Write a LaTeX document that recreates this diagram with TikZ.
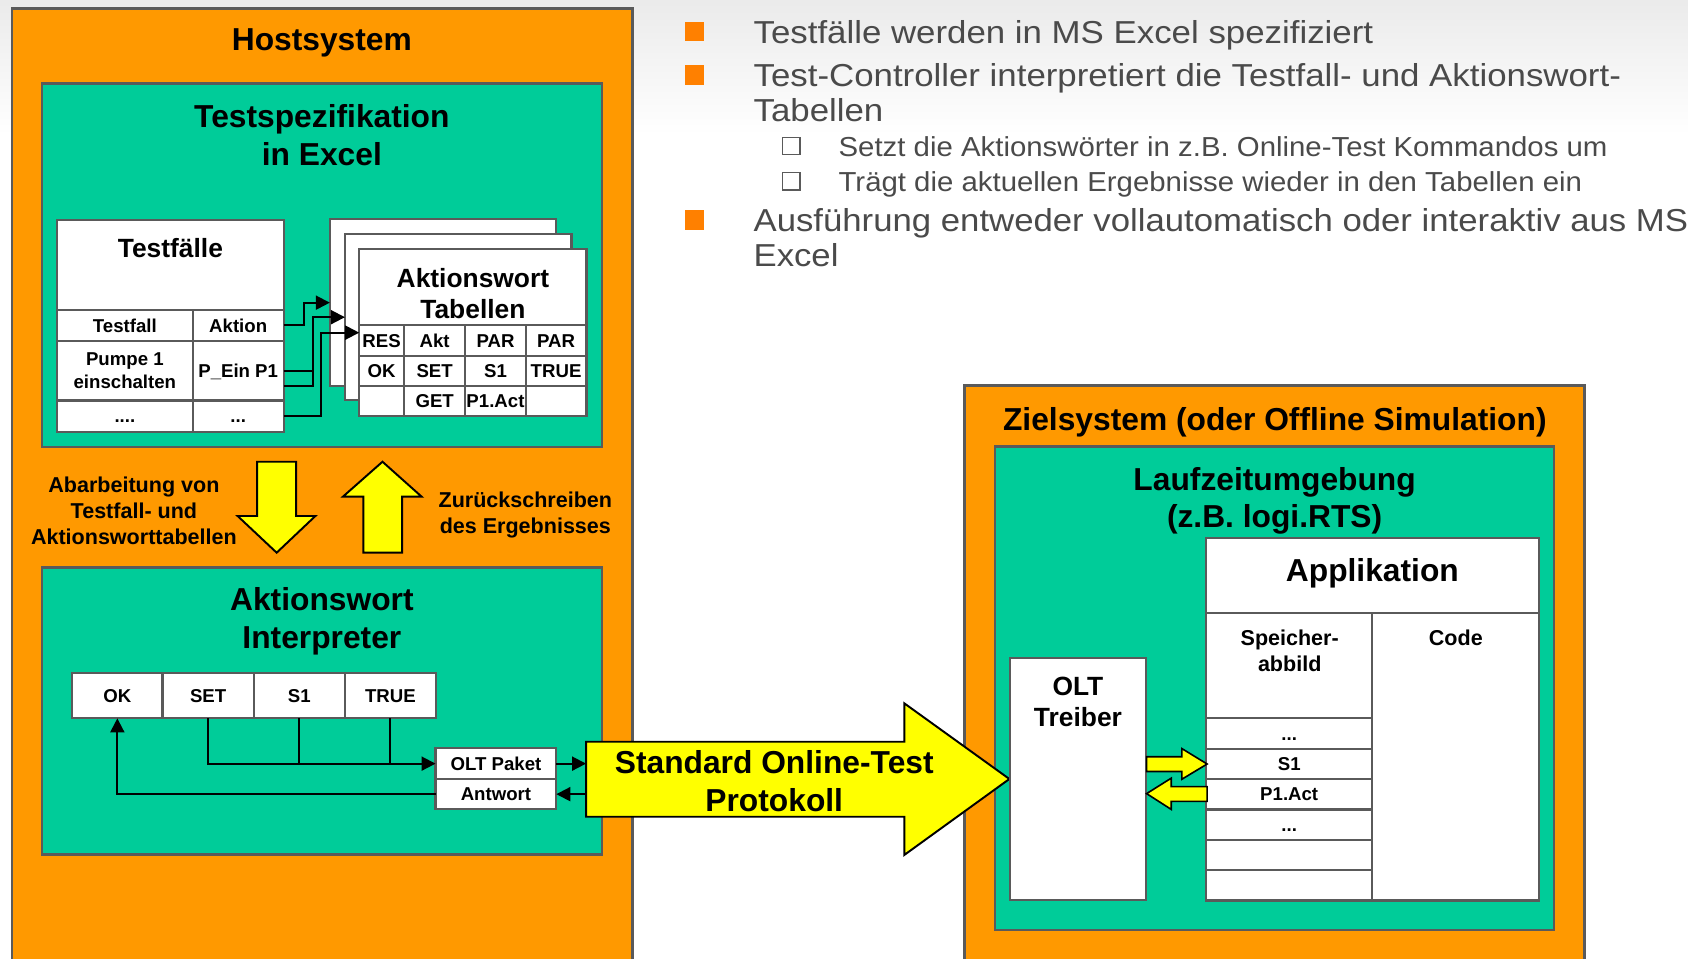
\documentclass[tikz,border=0pt]{standalone}
\usepackage{fontspec}
\usepackage{graphicx}
\setmainfont{Liberation Sans}
\usetikzlibrary{arrows.meta}
\definecolor{orng}{HTML}{FF9900}
\definecolor{tealc}{HTML}{00CC99}
\definecolor{yelc}{HTML}{FFFF00}
\definecolor{bordc}{HTML}{5A5A5A}
\definecolor{txtg}{HTML}{4A4A4A}
\definecolor{bulc}{HTML}{FF8000}
\newcommand{\myfs}[2]{\fontsize{#1}{#2}\selectfont\lineskiplimit=-1000pt\relax}
\newcommand{\ms}{\rule[-0.284em]{0pt}{1.284em}}
\newcommand{\sx}[2]{\scalebox{#1}[1]{\ms #2}}
\newcommand{\mkbox}[6][]{\node[#1, anchor=north west, minimum width={#5-#3}, minimum height={#6-#4}] (#2) at (#3,#4) {};}
\newcommand{\mkcell}[7][]{\node[cellst,#1, minimum width={#5-#3}, minimum height={#6-#4}] (#2) at ({(#3+#5)/2},{(#4+#6)/2}) {\ms #7};}
\tikzset{
 panelst/.style={draw=bordc, line width=2.2pt, inner sep=0pt, outer sep=0pt},
 hostst/.style={panelst, fill=orng},
 envst/.style={panelst, fill=tealc},
 whitest/.style={panelst, fill=white, line width=2pt},
 cellst/.style={draw=bordc, fill=white, line width=2pt, inner sep=0pt, outer sep=0pt, align=center, font=\myfs{17.3}{21}\bfseries},
 lab/.style={inner sep=0pt, outer sep=0pt, align=center, text=black},
 big/.style={lab, font=\myfs{29.5}{35}\bfseries},
 mid/.style={lab, font=\myfs{24.5}{29}\bfseries},
 sml/.style={lab, font=\myfs{20}{24}\bfseries},
 conn/.style={line width=1.8pt, black},
 tipa/.style={-{Triangle[length=13pt,width=13pt]}},
 blk/.style={draw=black, line width=1.8pt, fill=yelc, line join=miter},
 blks/.style={draw=black, line width=1.5pt, fill=yelc, line join=miter},
 rt/.style={inner sep=0pt, outer sep=0pt, anchor=west, align=left, text=txtg},
 bul/.style={fill=bulc, inner sep=0pt, minimum size=18pt},
 subbul/.style={draw=bordc, fill=white, line width=1.4pt, inner sep=0pt, minimum width=16pt, minimum height=16pt},
}
\begin{document}
\begin{tikzpicture}[x=1pt,y=-1pt]
\useasboundingbox (0,0) rectangle (1568,890);
\shade[top color=black!8, bottom color=white] (0,0) rectangle (1568,125);

% ---------------- Hostsystem ----------------
\mkbox[hostst]{host}{11}{8}{587.5}{905}
\node[big] (hosttitle) at (299,36.5) {\ms Hostsystem};
\mkbox[envst]{spec}{39}{77.4}{559}{415}
\node[big] (spectitle) at (299,125.7) {\ms Testspezifikation\\\ms in Excel};

% Testfaelle table
\mkbox[whitest]{tf}{53}{204.4}{263.5}{401}
\node[mid] (tftitle) at (158.3,230.7) {\ms Testfälle};
\mkcell{tfh1}{53}{288}{179}{316.5}{Testfall}
\mkcell{tfh2}{179}{288}{263.5}{316.5}{Aktion}
\mkcell{tfr1}{53}{316.5}{179}{372}{Pumpe 1\\\ms einschalten}
\mkcell{tfP}{179}{316.5}{263.5}{372}{P\_Ein P1}
\mkcell{tfr3}{53}{372}{179}{401}{....}
\mkcell{tfD}{179}{372}{263.5}{401}{...}

% Aktionswort sheets
\mkbox[whitest]{back}{306.4}{203.7}{516.8}{358.6}
\mkbox[whitest]{mids}{320.4}{217.7}{530.8}{371.6}
\mkbox[whitest]{front}{333.7}{231.6}{544.8}{386.4}
\node[mid] (fronttitle) at (439.3,272.9) {\ms Aktionswort\\\ms Tabellen};
\mkcell{a11}{333.7}{302}{375.3}{330.7}{RES}
\mkcell{a12}{375.3}{302}{432.2}{330.7}{Akt}
\mkcell{a13}{432.2}{302}{488.3}{330.7}{PAR}
\mkcell{a14}{488.3}{302}{544.8}{330.7}{PAR}
\mkcell{a21}{333.7}{330.7}{375.3}{358.6}{OK}
\mkcell{a22}{375.3}{330.7}{432.2}{358.6}{SET}
\mkcell{a23}{432.2}{330.7}{488.3}{358.6}{S1}
\mkcell{a24}{488.3}{330.7}{544.8}{358.6}{TRUE}
\mkcell{a31}{333.7}{358.6}{375.3}{386.4}{}
\mkcell{a32}{375.3}{358.6}{432.2}{386.4}{GET}
\mkcell{a33}{432.2}{358.6}{488.3}{386.4}{P1.Act}
\mkcell{a34}{488.3}{358.6}{544.8}{386.4}{}

% connectors Testfaelle -> sheets
\coordinate (p1) at (291,344.6);
\coordinate (p2) at (291,358.3);
\draw[conn,tipa] (tfh2.east) -- ++(19.2,0) |- (back.west);
\draw[conn] (tfP.east |- p1) -- (p1);
\draw[conn,tipa] (tfP.east |- p2) -- (p2) |- (mids.west);
\draw[conn,tipa] (tfD.east) -- ++(34.4,0) |- (front.west);

% yellow block arrows
\draw[blk] (238.8,428.9) -- (275,428.9) -- (275,479.3) -- (293,479.3) -- (257,513.4) -- (220.7,479.3) -- (238.8,479.3) -- cycle;
\draw[blk] (355.3,428.9) -- (391.7,461.4) -- (373.5,461.4) -- (373.5,513.4) -- (337.5,513.4) -- (337.5,461.4) -- (318.5,461.4) -- cycle;
\node[sml] (abtxt) at (124.4,474.3) {\ms Abarbeitung von\\\ms Testfall- und\\\ms Aktionsworttabellen};
\node[sml] (zurtxt) at (488,476.5) {\ms Zurückschreiben\\\ms des Ergebnisses};

% Interpreter
\mkbox[envst]{interp}{39}{527.3}{559}{793.6}
\node[big] (interptitle) at (299,574.3) {\ms Aktionswort\\\ms Interpreter};
\mkcell{ok}{67.1}{625.5}{150.9}{667.3}{OK}
\mkcell{set}{150.9}{625.5}{235.8}{667.3}{SET}
\mkcell{sone}{235.8}{625.5}{320.4}{667.3}{S1}
\mkcell{tru}{320.4}{625.5}{405}{667.3}{TRUE}
\mkcell{olt}{404.6}{695.1}{516.8}{723.6}{OLT Paket}
\mkcell{antw}{404.6}{723.6}{516.8}{751.8}{Antwort}
\draw[conn,tipa] (set.south) |- (olt.west);
\draw[conn] (sone.south) -- (sone.south |- olt.west);
\draw[conn] (tru.south) -- (tru.south |- olt.west);
\draw[conn,tipa] (antw.west) -| (ok.south);

% ---------------- Zielsystem ----------------
\mkbox[hostst]{ziel}{896}{358.1}{1471.8}{905}
\node[big] (zieltitle) at (1184.2,388.9) {\ms Zielsystem (oder Offline Simulation)};
\mkbox[envst]{lauf}{924.1}{414.6}{1443.7}{863.8}
\node[lab, font=\myfs{29.5}{33.6}\bfseries] (lauftitle) at (1184,462.2) {\ms Laufzeitumgebung\\\ms (z.B. logi.RTS)};

% big protocol arrow (on top of the target box edge)
\draw[blk] (544.4,689) -- (840,689) -- (840,653.3) -- (937.6,723.6) -- (840,794.2) -- (840,758.7) -- (544.4,758.7) -- cycle;
\coordinate (bigL) at (544.4,723.6);
\node[lab, font=\myfs{29.5}{35.5}\bfseries] (stdtxt) at (719.2,725.3) {\ms Standard Online-Test\\\ms Protokoll};
\draw[conn,tipa] (olt.east) -- (olt.east -| bigL);
\draw[conn,tipa] (antw.east -| bigL) -- (antw.east);

\mkbox[whitest]{app}{1120.3}{499.5}{1429.5}{836.5}
\mkbox[whitest]{apphead}{1120.3}{499.5}{1429.5}{569.4}
\mkbox[whitest]{code}{1274.8}{569.4}{1429.5}{836.5}
\mkbox[whitest]{speich}{1120.3}{569.4}{1274.8}{667.3}
\node[big] (apptitle) at (1274.8,529.3) {\ms Applikation};
\node[sml] (speichtxt) at (1198,604.6) {\ms Speicher-\\\ms abbild};
\node[sml] (codetxt) at (1352.3,592.7) {\ms Code};
\mkcell{m1}{1120.3}{667.3}{1274.8}{696}{...}
\mkcell{m2}{1120.3}{696}{1274.8}{723.8}{S1}
\mkcell{m3}{1120.3}{723.8}{1274.8}{751.9}{P1.Act}
\mkcell{m4}{1120.3}{751.9}{1274.8}{780}{...}
\mkcell{m5}{1120.3}{780}{1274.8}{808.4}{}
\mkcell{m6}{1120.3}{808.4}{1274.8}{836.5}{}
\mkbox[whitest]{drv}{938.3}{611.5}{1064.3}{835.8}
\node[mid] (drvtxt) at (1001.3,651.8) {\ms OLT\\\ms Treiber};
\draw[blks] (1065.1,702.9) -- (1097.9,702.9) -- (1097.9,695.4) -- (1121.3,709.7) -- (1097.9,723.8) -- (1097.9,716.6) -- (1065.1,716.6) -- cycle;
\draw[blks] (1121.3,730.7) -- (1088,730.7) -- (1088,722.8) -- (1065.1,737.2) -- (1088,751.9) -- (1088,744.4) -- (1121.3,744.4) -- cycle;

% ---------------- bullet text ----------------
\node[bul] (b1) at (645.3,29.5) {};
\node[bul] (b2) at (645.3,69.5) {};
\node[bul] (b3) at (645.3,204.4) {};
\node[rt, font=\myfs{29.5}{32.5}] (t1) at (700,30) {\sx{1.097}{Testfälle werden in MS Excel spezifiziert}};
\node[rt, font=\myfs{29.5}{32.5}] (t2) at (700,85.95) {\sx{1.097}{Test-Controller interpretiert die Testfall- und Aktionswort-}\\\sx{1.097}{Tabellen}};
\node[subbul] (sb1) at (735,135.7) {};
\node[subbul] (sb2) at (735,168.3) {};
\node[rt, font=\myfs{25.5}{32.5}] (s1) at (779,136.2) {\sx{1.07}{Setzt die Aktionswörter in z.B. Online-Test Kommandos um}};
\node[rt, font=\myfs{25.5}{32.5}] (s2) at (779,168.8) {\sx{1.07}{Trägt die aktuellen Ergebnisse wieder in den Tabellen ein}};
\node[rt, font=\myfs{29.5}{32.5}] (t3) at (700,220.65) {\sx{1.094}{Ausführung entweder vollautomatisch oder interaktiv aus MS}\\\sx{1.094}{Excel}};
\end{tikzpicture}
\end{document}
